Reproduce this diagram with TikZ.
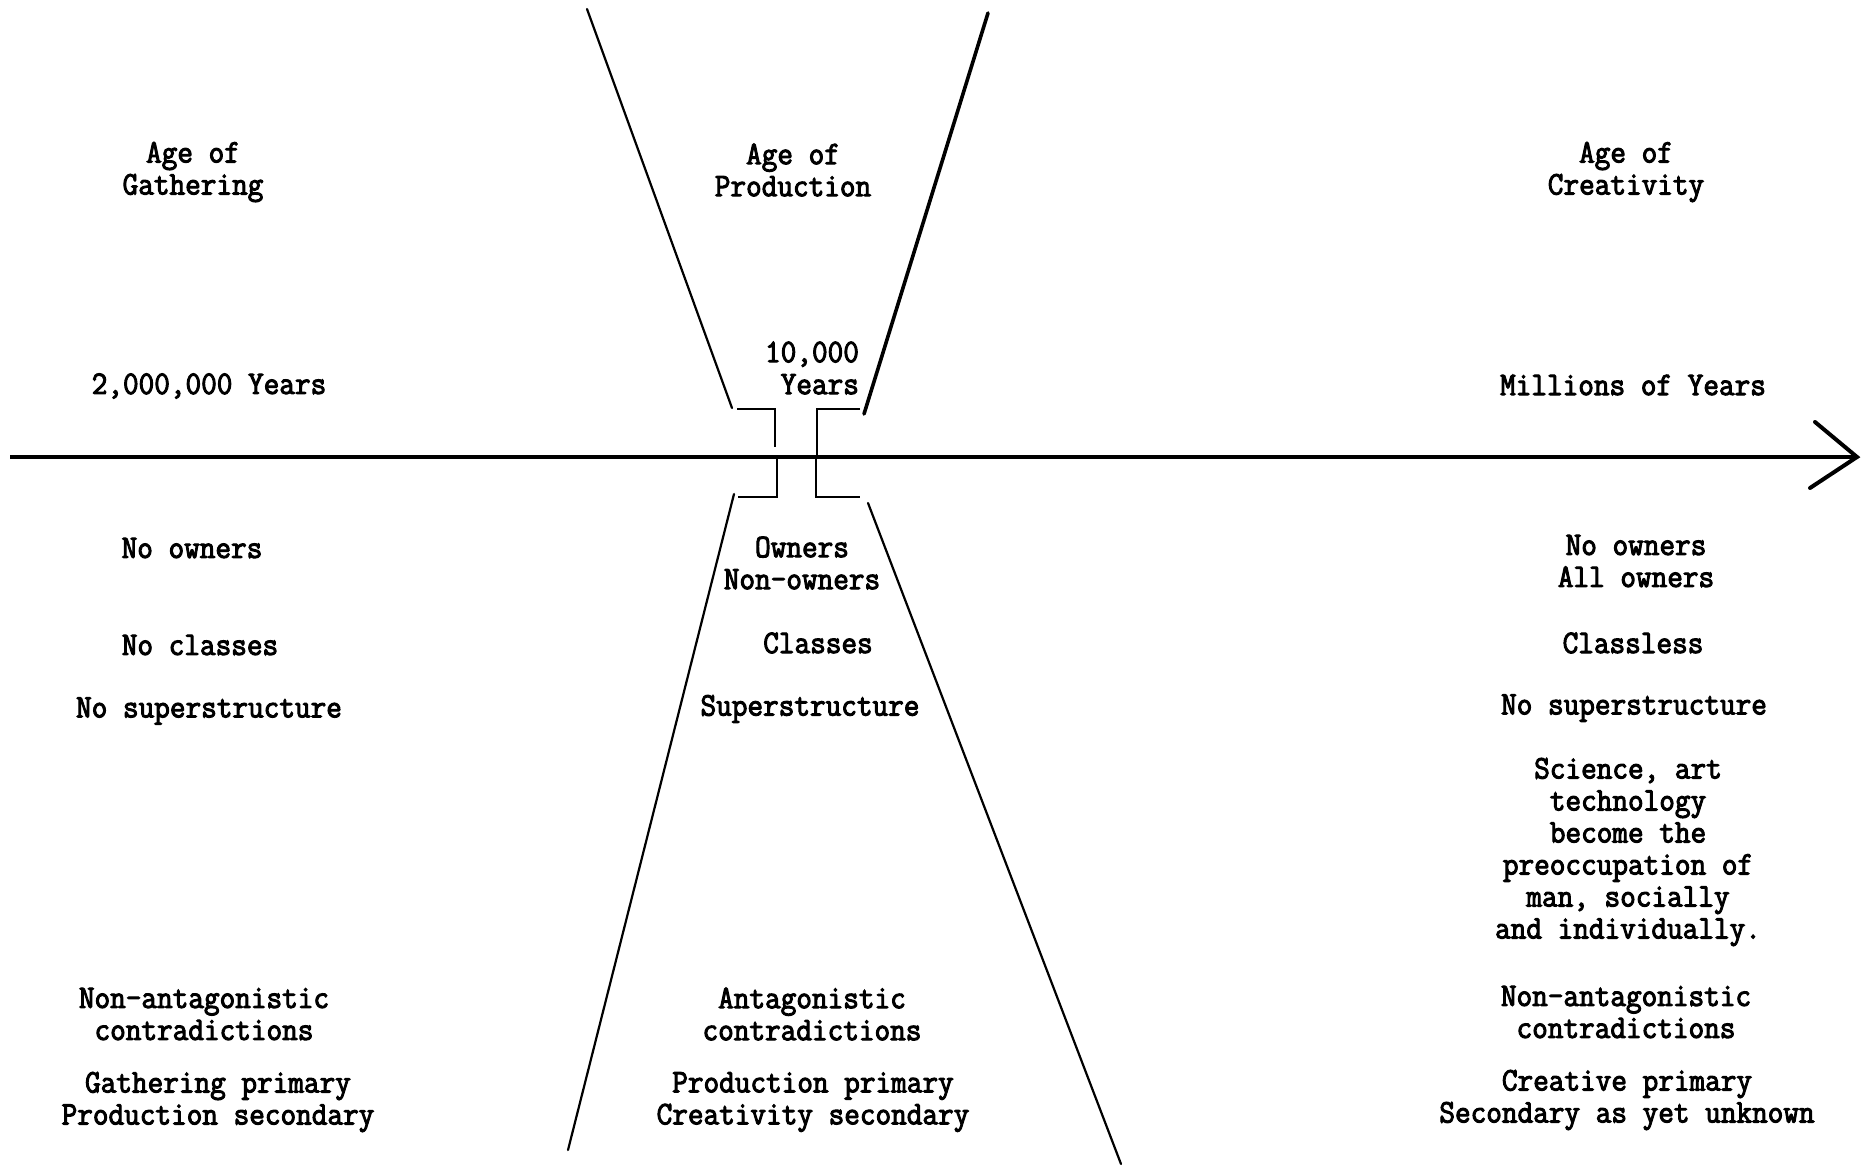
\documentclass[tikz,border=0pt]{standalone}
\usepackage{fontspec}
\newfontfamily\typed[FakeBold=3,FakeStretch=0.92]{Latin Modern Mono}
\begin{document}
\begin{tikzpicture}[x=1pt,y=-1pt,
  lbl/.style={inner sep=0pt,align=center,font=\typed\fontsize{33}{32}\selectfont},
  funnel/.style={line width=2.2pt,line cap=round},
  bracket/.style={line width=2.6pt},
  axis/.style={line width=3.4pt}]
\useasboundingbox (0,0) rectangle (1870,1166);

% time axis with open arrowhead
\coordinate (ax0) at (10,457);
\coordinate (ax1) at (1857,457);
\draw[axis] (ax0) -- (ax1);
\draw[line width=4pt,line cap=round,line join=miter] (1815,422) -- (ax1) -- (1810,488);

% upper funnel of the age of production
\draw[funnel] (587,9) -- (732,408);
\draw[funnel,line width=3.6pt] (988,13) -- (864,414);
% lower funnel
\draw[funnel] (734,494) -- (568,1150);
\draw[funnel] (868,503) -- (1121,1164);

% narrow neck brackets at the axis
\draw[bracket] (737,409) -- (775,409) -- (775,447);
\draw[bracket] (860,409) -- (817,409) -- (817,457);
\draw[bracket] (777,457) -- (777,497) -- (738,497);
\draw[bracket] (816,457) -- (816,497) -- (860,497);

% column headings
\node[lbl] (h1) at (193,172) {Age of\\Gathering};
\node[lbl] (h2) at (793,170) {Age of\\Production};
\node[lbl] (h3) at (1626,172) {Age of\\Creativity};

% durations
\node[lbl] (d1) at (209,386) {2,000,000 Years};
\node[lbl,align=right] (d2) at (812,368) {10,000\\Years};
\node[lbl] (d3) at (1633,385) {Millions of Years};

% gathering column
\node[lbl] (g1) at (192,548) {No owners};
\node[lbl] (g2) at (200,645) {No classes};
\node[lbl] (g3) at (209,711) {No superstructure};
\node[lbl] (g4) at (204,1014) {Non-antagonistic\\contradictions};
\node[lbl] (g5) at (218,1102) {Gathering primary\\Production secondary};

% production column
\node[lbl] (p1) at (802,563) {Owners\\Non-owners};
\node[lbl] (p2) at (818,643) {Classes};
\node[lbl] (p3) at (810,709) {Superstructure};
\node[lbl] (p4) at (812,1014) {Antagonistic\\contradictions};
\node[lbl] (p5) at (813,1102) {Production primary\\Creativity secondary};

% creativity column
\node[lbl] (c1) at (1636,561) {No owners\\All owners};
\node[lbl] (c2) at (1633,643) {Classless};
\node[lbl] (c3) at (1634,708) {No superstructure};
\node[lbl] (c4) at (1628,852) {Science, art\\technology\\become the\\preoccupation of\\man, socially\\and individually.};
\node[lbl] (c5) at (1626,1012) {Non-antagonistic\\contradictions};
\node[lbl] (c6) at (1627,1100) {Creative primary\\Secondary as yet unknown};
\end{tikzpicture}
\end{document}
